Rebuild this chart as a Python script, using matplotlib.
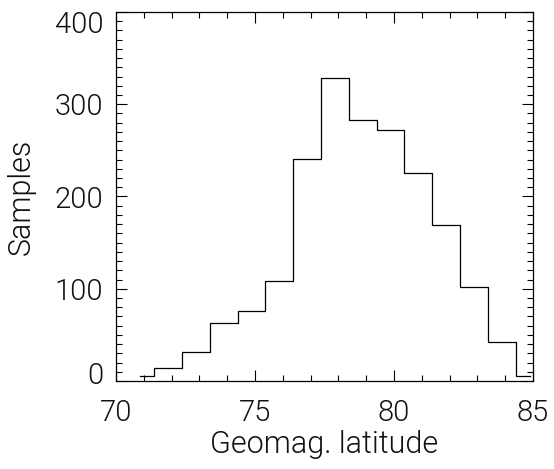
import matplotlib
matplotlib.use("Agg")
import matplotlib.pyplot as plt
from matplotlib.ticker import MultipleLocator
from matplotlib.transforms import ScaledTranslation

# bin centres (deg) and counts per bin
lat = [70.875, 71.875, 72.875, 73.875, 74.875, 75.875, 76.875, 77.875,
       78.875, 79.875, 80.875, 81.875, 82.875, 83.875, 84.875]
counts = [5, 14, 31, 63, 76, 108, 241, 328, 283, 272, 226, 169, 102, 42, 5]

xticks = [70, 75, 80, 85]
yticks = [0, 100, 200, 300, 400]

plt.rcParams['font.family'] = ['Roboto', 'DejaVu Sans']
plt.rcParams['font.weight'] = 300

fig = plt.figure(figsize=(5.54, 4.69), dpi=100)
ax = fig.add_axes([116 / 554, 88 / 469, 417 / 554, 369 / 469])

# IDL-style histogram (psym=10)
ax.step(lat, counts, where='mid', color='black', lw=0.9)

ax.set_xlim(70, 85)
ax.set_ylim(0, 400)
ax.set_xticks(xticks)
ax.set_yticks(yticks)
ax.xaxis.set_minor_locator(MultipleLocator(1))
ax.yaxis.set_minor_locator(MultipleLocator(10))

ax.tick_params(which='both', direction='in', top=True, right=True,
               labelsize=21, width=0.8, colors='black', labelcolor='#111111')
ax.tick_params(which='major', length=8)
ax.tick_params(which='minor', length=4)
ax.tick_params(axis='x', pad=13)
ax.tick_params(axis='y', pad=9)

for s in ax.spines.values():
    s.set_linewidth(0.9)

for lab in ax.get_xticklabels() + ax.get_yticklabels():
    lab.set_fontweight(300)

# end labels pulled inside the frame
ylabs = ax.get_yticklabels()
ylabs[0].set_transform(ylabs[0].get_transform() + ScaledTranslation(0, 8 / 100, fig.dpi_scale_trans))
ylabs[-1].set_transform(ylabs[-1].get_transform() + ScaledTranslation(0, -10 / 100, fig.dpi_scale_trans))

ax.set_xlabel('Geomag. latitude', fontsize=22, fontweight=300, color='#111111', labelpad=2)
ax.set_ylabel('Samples', fontsize=22, fontweight=300, color='#111111', labelpad=14)

fig.savefig('out.png', dpi=100)
